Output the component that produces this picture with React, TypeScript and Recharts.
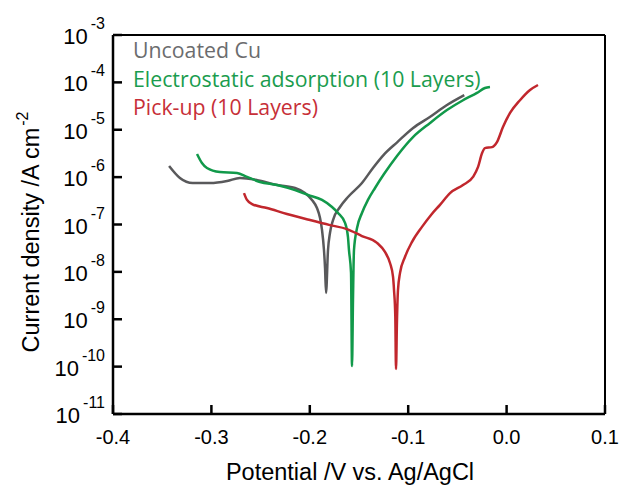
import { LineChart, Line, XAxis, YAxis, ReferenceLine, Customized } from 'recharts'

// potential (V vs Ag/AgCl) and current density (A cm^-2)
const uncoatedCu = [
  { v: -0.343, j: 1.72e-6 }, { v: -0.332, j: 9.6e-7 }, { v: -0.319, j: 7.5e-7 },
  { v: -0.301, j: 7.5e-7 }, { v: -0.284, j: 8.3e-7 }, { v: -0.271, j: 9.6e-7 },
  { v: -0.254, j: 8.7e-7 }, { v: -0.233, j: 6.8e-7 }, { v: -0.215, j: 5.9e-7 },
  { v: -0.2049, j: 4.6e-7 }, { v: -0.1978, j: 3.3e-7 }, { v: -0.1927, j: 2.23e-7 },
  { v: -0.1896, j: 1.37e-7 }, { v: -0.1876, j: 7.7e-8 }, { v: -0.1856, j: 2.9e-8 },
  { v: -0.1845, j: 1.2e-8 }, { v: -0.1835, j: 3.6e-9 }, { v: -0.1815, j: 2.9e-8 },
  { v: -0.1795, j: 6.6e-8 }, { v: -0.1764, j: 1.24e-7 }, { v: -0.1693, j: 2.34e-7 },
  { v: -0.1612, j: 3.8e-7 }, { v: -0.147, j: 7.5e-7 }, { v: -0.1358, j: 1.56e-6 },
  { v: -0.124, j: 3.1e-6 }, { v: -0.111, j: 5.5e-6 }, { v: -0.095, j: 1.09e-5 },
  { v: -0.078, j: 1.86e-5 }, { v: -0.061, j: 3.3e-5 }, { v: -0.043, j: 5.4e-5 },
]

const electrostatic = [
  { v: -0.3146, j: 3.08e-6 }, { v: -0.3096, j: 1.99e-6 }, { v: -0.3045, j: 1.56e-6 },
  { v: -0.2913, j: 1.28e-6 }, { v: -0.274, j: 1.22e-6 }, { v: -0.2638, j: 1.01e-6 },
  { v: -0.2506, j: 7.9e-7 }, { v: -0.2333, j: 6.8e-7 }, { v: -0.215, j: 5.3e-7 },
  { v: -0.2018, j: 4.2e-7 }, { v: -0.1876, j: 3.3e-7 }, { v: -0.1774, j: 2.34e-7 },
  { v: -0.1713, j: 1.75e-7 }, { v: -0.1642, j: 1.08e-7 }, { v: -0.1612, j: 5.4e-8 },
  { v: -0.1602, j: 2.9e-8 }, { v: -0.1581, j: 9.5e-9 }, { v: -0.1571, j: 1.03e-10 },
  { v: -0.1561, j: 2.6e-9 }, { v: -0.1551, j: 2.9e-8 }, { v: -0.152, j: 8.4e-8 },
  { v: -0.147, j: 1.75e-7 }, { v: -0.1409, j: 3.3e-7 }, { v: -0.1337, j: 5.9e-7 },
  { v: -0.1246, j: 1.16e-6 }, { v: -0.1114, j: 2.8e-6 }, { v: -0.0951, j: 7.0e-6 },
  { v: -0.0778, j: 1.39e-5 }, { v: -0.0606, j: 2.6e-5 }, { v: -0.0443, j: 4.2e-5 },
  { v: -0.0301, j: 6.0e-5 }, { v: -0.022, j: 7.6e-5 }, { v: -0.0169, j: 8.0e-5 },
]

const pickUp = [
  { v: -0.2669, j: 4.6e-7 }, { v: -0.2638, j: 3.3e-7 }, { v: -0.2587, j: 2.7e-7 },
  { v: -0.2435, j: 2.23e-7 }, { v: -0.2232, j: 1.67e-7 }, { v: -0.1998, j: 1.24e-7 },
  { v: -0.1795, j: 9.7e-8 }, { v: -0.1622, j: 8.0e-8 }, { v: -0.147, j: 5.7e-8 },
  { v: -0.1317, j: 4.1e-8 }, { v: -0.1236, j: 2.63e-8 }, { v: -0.1185, j: 1.54e-8 },
  { v: -0.1154, j: 7.8e-9 }, { v: -0.1144, j: 4.1e-9 }, { v: -0.1131, j: 1.12e-9 },
  { v: -0.1124, j: 8.9e-11 }, { v: -0.1114, j: 9.6e-10 }, { v: -0.1104, j: 4.1e-9 },
  { v: -0.1083, j: 9.5e-9 }, { v: -0.1033, j: 2.06e-8 }, { v: -0.0961, j: 4.3e-8 },
  { v: -0.086, j: 8.9e-8 }, { v: -0.0768, j: 1.59e-7 }, { v: -0.0677, j: 2.6e-7 },
  { v: -0.0575, j: 4.6e-7 }, { v: -0.0443, j: 6.8e-7 }, { v: -0.0341, j: 1.01e-6 },
  { v: -0.029, j: 1.64e-6 }, { v: -0.025, j: 3.2e-6 }, { v: -0.022, j: 4.1e-6 },
  { v: -0.0148, j: 4.3e-6 }, { v: -0.0098, j: 5.5e-6 }, { v: -0.0037, j: 1.14e-5 },
  { v: 0.0035, j: 2.26e-5 }, { v: 0.0136, j: 4.2e-5 }, { v: 0.0238, j: 6.9e-5 },
  { v: 0.0319, j: 8.8e-5 },
]

const seriesNames = ['Uncoated Cu', 'Electrostatic adsorption (10 Layers)', 'Pick-up (10 Layers)']
const lineColors = ['#59595b', '#11994a', '#c1272d']
const labelColors = ['#6b6c6e', '#1a9c4e', '#c72f38']
const potentialTicks = [-0.4, -0.3, -0.2, -0.1, 0, 0.1]
const densityTicks = [1e-11, 1e-10, 1e-9, 1e-8, 1e-7, 1e-6, 1e-5, 1e-4, 1e-3]

const W = 620
const H = 486
const PL = 113
const PR = 605
const PT = 35
const PB = 414
const Y_W = 100
const X_H = 60
const AXIS_FONT = '"Liberation Sans", Arial, sans-serif'
const LEGEND_FONT = '"Open Sans", sans-serif'

function DensityTick({ y, payload }: any) {
  const exp = Math.round(Math.log10(payload.value))
  return (
    <g>
      <line x1={PL} x2={PL + 9} y1={y} y2={y} stroke="#000" strokeWidth={2.5} />
      <text x={105} y={y + 9} textAnchor="end" fontFamily={AXIS_FONT} fill="#000">
        <tspan fontSize={22}>10</tspan>
        <tspan fontSize={16} dx={3} dy={-15}>{exp}</tspan>
      </text>
    </g>
  )
}

function PotentialTick({ x, payload }: any) {
  return (
    <g>
      <line x1={x} x2={x} y1={PB} y2={PB - 9} stroke="#000" strokeWidth={2.5} />
      <text x={x} y={444} textAnchor="middle" fontFamily={AXIS_FONT} fontSize={20} fill="#000">
        {payload.value.toFixed(1)}
      </text>
    </g>
  )
}

function Overlay() {
  return (
    <g>
      {seriesNames.map((name, i) => (
        <text key={name} x={133} y={58 + i * 28.6} fontFamily={LEGEND_FONT} fontSize={21.3} fill={labelColors[i]}>
          {name}
        </text>
      ))}
      <text x={350} y={480} textAnchor="middle" fontFamily={AXIS_FONT} fontSize={23.5} fill="#000">
        Potential /V vs. Ag/AgCl
      </text>
      <text x={39} y={232} transform="rotate(-90 39 232)" textAnchor="middle" fontFamily={AXIS_FONT} fontSize={23.5} fill="#000">
        <tspan>Current density /A cm</tspan>
        <tspan fontSize={16} dx={2} dy={-11}>-2</tspan>
      </text>
    </g>
  )
}

export default function App() {
  const series = [uncoatedCu, electrostatic, pickUp]
  return (
    <div style={{ position: 'absolute', left: 0, top: 0, width: W, height: H, background: '#fff' }}>
      <LineChart width={W} height={H}
        margin={{ top: PT, right: W - PR, left: PL - Y_W, bottom: H - PB - X_H }}>
        <XAxis dataKey="v" type="number" domain={[-0.4, 0.1]} ticks={potentialTicks}
          height={X_H} axisLine={{ stroke: '#000', strokeWidth: 2.5 }} tickLine={false}
          tick={<PotentialTick />} interval={0} allowDataOverflow />
        <YAxis type="number" scale="log" domain={[1e-11, 1e-3]} ticks={densityTicks}
          width={Y_W} axisLine={{ stroke: '#000', strokeWidth: 2.5 }} tickLine={false}
          tick={<DensityTick />} interval={0} allowDataOverflow />
        <ReferenceLine y={1e-3} stroke="#000" strokeWidth={2} />
        <ReferenceLine x={0.1} stroke="#000" strokeWidth={2} />
        {series.map((d, i) => (
          <Line key={seriesNames[i]} data={d} dataKey="j" name={seriesNames[i]} type="monotoneX"
            stroke={lineColors[i]} strokeWidth={2.5} dot={false} activeDot={false}
            isAnimationActive={false} />
        ))}
        <Customized component={Overlay} />
      </LineChart>
    </div>
  )
}
